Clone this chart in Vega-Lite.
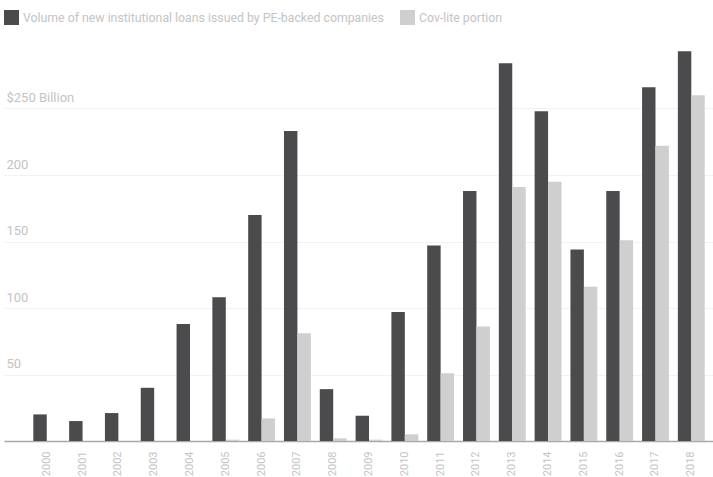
{
  "$schema": "https://vega.github.io/schema/vega-lite/v6.json",
  "autosize": {"type": "none"},
  "width": 709,
  "height": 399,
  "padding": {"left": 4, "top": 42, "right": 0, "bottom": 36},
  "background": "white",
  "config": {
    "font": "Roboto, sans-serif",
    "view": {"stroke": null}
  },
  "data": {
    "values": [
      {"year": "2000", "series": "Volume of new institutional loans issued by PE-backed companies", "value": 20},
      {"year": "2000", "series": "Cov-lite portion", "value": 0},
      {"year": "2001", "series": "Volume of new institutional loans issued by PE-backed companies", "value": 15},
      {"year": "2001", "series": "Cov-lite portion", "value": 0},
      {"year": "2002", "series": "Volume of new institutional loans issued by PE-backed companies", "value": 21},
      {"year": "2002", "series": "Cov-lite portion", "value": 0},
      {"year": "2003", "series": "Volume of new institutional loans issued by PE-backed companies", "value": 40},
      {"year": "2003", "series": "Cov-lite portion", "value": 0},
      {"year": "2004", "series": "Volume of new institutional loans issued by PE-backed companies", "value": 88},
      {"year": "2004", "series": "Cov-lite portion", "value": 0},
      {"year": "2005", "series": "Volume of new institutional loans issued by PE-backed companies", "value": 108},
      {"year": "2005", "series": "Cov-lite portion", "value": 1},
      {"year": "2006", "series": "Volume of new institutional loans issued by PE-backed companies", "value": 170},
      {"year": "2006", "series": "Cov-lite portion", "value": 17},
      {"year": "2007", "series": "Volume of new institutional loans issued by PE-backed companies", "value": 233},
      {"year": "2007", "series": "Cov-lite portion", "value": 81},
      {"year": "2008", "series": "Volume of new institutional loans issued by PE-backed companies", "value": 39},
      {"year": "2008", "series": "Cov-lite portion", "value": 2},
      {"year": "2009", "series": "Volume of new institutional loans issued by PE-backed companies", "value": 19},
      {"year": "2009", "series": "Cov-lite portion", "value": 1},
      {"year": "2010", "series": "Volume of new institutional loans issued by PE-backed companies", "value": 97},
      {"year": "2010", "series": "Cov-lite portion", "value": 5},
      {"year": "2011", "series": "Volume of new institutional loans issued by PE-backed companies", "value": 147},
      {"year": "2011", "series": "Cov-lite portion", "value": 51},
      {"year": "2012", "series": "Volume of new institutional loans issued by PE-backed companies", "value": 188},
      {"year": "2012", "series": "Cov-lite portion", "value": 86},
      {"year": "2013", "series": "Volume of new institutional loans issued by PE-backed companies", "value": 284},
      {"year": "2013", "series": "Cov-lite portion", "value": 191},
      {"year": "2014", "series": "Volume of new institutional loans issued by PE-backed companies", "value": 248},
      {"year": "2014", "series": "Cov-lite portion", "value": 195},
      {"year": "2015", "series": "Volume of new institutional loans issued by PE-backed companies", "value": 144},
      {"year": "2015", "series": "Cov-lite portion", "value": 116},
      {"year": "2016", "series": "Volume of new institutional loans issued by PE-backed companies", "value": 188},
      {"year": "2016", "series": "Cov-lite portion", "value": 151},
      {"year": "2017", "series": "Volume of new institutional loans issued by PE-backed companies", "value": 266},
      {"year": "2017", "series": "Cov-lite portion", "value": 222},
      {"year": "2018", "series": "Volume of new institutional loans issued by PE-backed companies", "value": 293},
      {"year": "2018", "series": "Cov-lite portion", "value": 260}
    ]
  },
  "mark": {"type": "bar"},
  "encoding": {
    "x": {
      "field": "year",
      "type": "nominal",
      "scale": {"paddingInner": 0.25, "paddingOuter": 0.525, "align": 0.78},
      "axis": {
        "title": null,
        "labelAngle": 270,
        "labelAlign": "right",
        "labelBaseline": "middle",
        "labelPadding": 10,
        "labelColor": "#c4c4c4",
        "labelFontSize": 11,
        "ticks": false,
        "domainColor": "#a8a8a8",
        "domainWidth": 1.5
      }
    },
    "xOffset": {
      "field": "series",
      "type": "nominal",
      "sort": ["Volume of new institutional loans issued by PE-backed companies", "Cov-lite portion"],
      "scale": {"paddingInner": 0, "paddingOuter": 0}
    },
    "y": {
      "field": "value",
      "type": "quantitative",
      "scale": {"domain": [0, 300], "nice": false},
      "axis": {
        "title": null,
        "values": [50, 100, 150, 200, 250],
        "labelExpr": "datum.value == 250 ? '$250 Billion' : datum.label",
        "labelAlign": "left",
        "labelBaseline": "bottom",
        "labelPadding": -2,
        "labelOffset": -4,
        "labelColor": "#c4c4c4",
        "labelFontSize": 13,
        "ticks": false,
        "domain": false,
        "grid": true,
        "gridColor": "#f2f2f2",
        "gridWidth": 1
      }
    },
    "color": {
      "field": "series",
      "type": "nominal",
      "sort": ["Volume of new institutional loans issued by PE-backed companies", "Cov-lite portion"],
      "scale": {
        "domain": ["Volume of new institutional loans issued by PE-backed companies", "Cov-lite portion"],
        "range": ["#4b4b4d", "#cfcfcf"]
      },
      "legend": {
        "title": null,
        "orient": "top",
        "direction": "horizontal",
        "offset": 17,
        "symbolType": "square",
        "symbolSize": 225,
        "symbolStrokeWidth": 0,
        "labelColor": "#c4c4c4",
        "labelFontSize": 12.3,
        "labelLimit": 500,
        "columnPadding": 16,
        "labelOffset": 4
      }
    }
  }
}
